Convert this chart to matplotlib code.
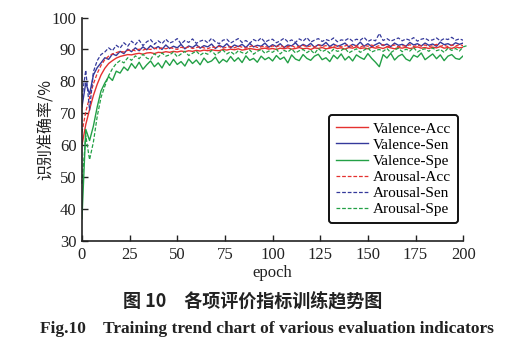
import matplotlib
matplotlib.use('Agg')
import matplotlib.pyplot as plt
import numpy as np

# epochs sampled every 2
epochs = list(range(0, 201, 2))
epochs_arousal_spe = list(range(0, 203, 2))

valence_acc = [60.0, 66.5, 71.2, 75.6, 79.1, 82.0, 84.1, 85.6, 86.5, 87.3,
               87.8, 88.1, 88.4, 88.3, 88.6, 88.8, 88.5, 88.9, 89.0, 88.7,
               89.1, 89.0, 89.3, 89.1, 89.4, 89.2, 89.5, 89.3, 89.6, 89.4,
               89.7, 89.5, 89.8, 89.6, 89.9, 89.7, 89.6, 90.0, 89.8, 90.1,
               89.9, 90.2, 89.8, 90.0, 90.3, 90.1, 89.9, 90.2, 90.4, 90.1,
               90.3, 90.0, 90.4, 90.2, 90.5, 90.1, 90.3, 90.6, 90.2, 90.4,
               90.0, 90.5, 90.3, 90.6, 90.2, 90.4, 90.7, 90.3, 90.5, 90.1,
               90.6, 90.4, 90.8, 90.3, 90.5, 90.2, 90.7, 90.4, 90.6, 90.3,
               90.8, 90.5, 90.2, 90.6, 90.4, 90.7, 90.3, 90.5, 90.8, 90.4,
               90.6, 90.3, 90.7, 90.5, 90.9, 90.4, 90.6, 90.3, 90.8, 90.5,
               90.7]
valence_sen = [72.0, 79.5, 76.0, 82.0, 84.3, 85.8, 87.4, 86.9, 88.6, 88.1,
               89.4, 88.7, 90.1, 89.3, 90.5, 89.6, 90.8, 89.9, 91.2, 90.2,
               90.9, 90.0, 91.4, 90.3, 91.0, 90.5, 91.6, 90.2, 91.1, 90.6,
               91.5, 90.4, 91.2, 90.8, 91.7, 90.3, 91.3, 90.7, 91.8, 90.5,
               91.4, 90.9, 91.6, 90.6, 91.9, 90.8, 91.3, 91.0, 92.0, 90.7,
               91.5, 90.9, 91.8, 90.6, 91.4, 91.1, 92.1, 90.8, 91.6, 91.0,
               91.9, 90.7, 91.5, 91.2, 92.2, 90.9, 91.7, 91.0, 91.4, 92.0,
               90.8, 91.6, 91.1, 92.3, 91.0, 91.8, 90.9, 91.5, 92.1, 91.2,
               91.7, 90.9, 92.0, 91.3, 91.6, 91.0, 92.2, 91.4, 91.8, 91.1,
               92.0, 91.3, 91.7, 91.0, 92.3, 91.5, 91.8, 91.2, 92.1, 91.6,
               92.0]
valence_spe = [37.0, 65.0, 61.5, 66.0, 72.0, 77.0, 79.5, 81.5, 80.3, 83.2,
               82.6, 84.5, 83.4, 85.6, 84.1, 86.0, 83.8, 85.2, 86.4, 84.6,
               85.8, 84.2, 86.5, 85.0, 86.9, 85.3, 86.2, 84.8, 87.0, 85.6,
               86.7, 85.2, 87.3, 85.9, 86.4, 87.6, 85.7, 86.9, 86.1, 87.8,
               86.3, 87.4, 85.9, 88.0, 86.6, 87.2, 86.0, 87.9, 86.8, 87.5,
               86.4, 88.1, 86.9, 87.6, 85.8, 88.3, 87.0, 86.5, 88.4, 87.2,
               86.6, 87.9, 88.5, 86.8, 87.4, 86.2, 88.2, 87.1, 88.6, 86.7,
               87.8, 86.4, 88.3, 87.5, 86.9, 88.7, 87.2, 86.0, 84.6, 88.4,
               87.3, 88.8, 86.7, 87.9, 88.5, 87.0, 86.4, 88.2, 87.6, 88.9,
               86.8, 87.7, 88.6, 87.1, 88.3, 86.5, 87.9, 88.4, 87.2, 86.9,
               88.0]
arousal_acc = [64.0, 70.5, 75.0, 79.2, 82.5, 85.0, 86.8, 87.9, 88.6, 89.0,
               89.4, 89.2, 89.7, 89.9, 89.6, 90.1, 89.8, 90.2, 90.0, 90.4,
               90.1, 90.5, 90.2, 90.6, 90.3, 90.0, 90.7, 90.4, 90.8, 90.3,
               90.6, 90.9, 90.5, 90.2, 90.8, 90.6, 91.0, 90.4, 90.7, 90.9,
               90.5, 91.1, 90.7, 90.4, 90.9, 91.2, 90.6, 90.8, 91.0, 90.5,
               91.1, 90.8, 91.3, 90.7, 90.9, 91.2, 90.6, 91.0, 91.3, 90.8,
               91.1, 90.7, 91.4, 90.9, 91.2, 90.6, 91.0, 91.3, 90.8, 91.1,
               91.5, 90.9, 91.2, 90.7, 91.3, 91.0, 91.4, 90.8, 91.2, 91.5,
               90.9, 91.1, 91.4, 90.8, 91.2, 91.0, 91.5, 90.9, 91.3, 91.1,
               91.4, 90.9, 91.2, 91.6, 91.0, 91.3, 90.9, 91.4, 91.1, 91.5,
               91.2]
arousal_sen = [75.0, 83.5, 71.0, 83.0, 86.5, 88.4, 89.2, 90.5, 89.6, 91.3,
               90.4, 92.1, 91.0, 92.6, 91.5, 92.9, 91.2, 92.4, 93.1, 91.6,
               92.7, 91.8, 93.2, 92.0, 92.5, 93.4, 91.7, 92.8, 92.2, 93.3,
               91.9, 92.6, 93.0, 92.1, 93.5, 92.4, 91.8, 92.9, 93.2, 92.0,
               92.7, 93.4, 92.2, 92.8, 91.9, 93.1, 92.5, 93.6, 92.3, 92.9,
               93.2, 92.1, 92.7, 93.5, 92.4, 93.0, 92.2, 93.3, 92.6, 93.7,
               92.3, 92.9, 93.4, 92.5, 93.1, 92.7, 93.6, 92.4, 93.0, 92.8,
               93.5, 92.6, 93.2, 92.9, 93.8, 92.5, 93.1, 92.7, 95.0, 92.8,
               93.4, 92.6, 93.1, 93.6, 92.7, 93.3, 92.9, 93.7, 92.6, 93.2,
               93.5, 92.8, 93.0, 93.6, 92.7, 93.4, 93.1, 93.8, 92.9, 93.3,
               92.9]
arousal_spe = [48.0, 63.0, 55.5, 61.0, 69.0, 75.0, 78.5, 81.8, 84.0, 85.6,
               86.5, 85.8, 87.4, 86.6, 88.0, 87.1, 88.5, 87.3, 86.8, 88.7,
               87.6, 88.9, 87.9, 88.3, 89.2, 87.7, 88.6, 89.4, 88.1, 88.8,
               89.5, 88.2, 89.0, 88.5, 89.7, 88.3, 89.1, 89.8, 88.6, 89.3,
               88.4, 89.6, 89.0, 88.7, 89.9, 88.5, 89.4, 90.0, 88.8, 89.5,
               89.1, 90.1, 88.6, 89.7, 89.2, 90.2, 88.9, 89.6, 90.0, 89.0,
               89.8, 88.7, 90.3, 89.3, 89.9, 88.8, 90.1, 89.4, 89.7, 90.4,
               88.9, 89.6, 90.2, 89.1, 89.8, 90.5, 89.2, 89.7, 90.0, 89.4,
               90.3, 89.0, 89.8, 90.4, 89.3, 90.1, 89.5, 90.6, 89.2, 89.9,
               90.2, 89.4, 90.5, 89.6, 90.0, 89.1, 90.4, 89.7, 90.3, 89.5,
               90.8, 91.2]

labels = ['Valence-Acc', 'Valence-Sen', 'Valence-Spe',
          'Arousal-Acc', 'Arousal-Sen', 'Arousal-Spe']
red, blue, green = '#e5312f', '#34399b', '#23a046'

plt.rcParams['font.family'] = ['Liberation Serif', 'Noto Sans CJK SC']

fig = plt.figure(figsize=(5.09, 3.5), dpi=100)
ax = fig.add_axes([0.161, 0.311, 0.749, 0.639])

ax.plot(epochs, valence_acc, color=red, lw=1.0, label=labels[0])
ax.plot(epochs, valence_sen, color=blue, lw=1.0, label=labels[1])
ax.plot(epochs, valence_spe, color=green, lw=1.0, label=labels[2])
ax.plot(epochs, arousal_acc, color=red, lw=0.9, ls=(0, (3, 1.5)), label=labels[3])
ax.plot(epochs, arousal_sen, color=blue, lw=0.9, ls=(0, (3, 1.5)), label=labels[4])
ax.plot(epochs_arousal_spe, arousal_spe, color=green, lw=0.9, ls=(0, (3, 1.5)),
        label=labels[5], clip_on=False)

ax.set_xlim(0, 200)
ax.set_ylim(30, 100)
ax.set_xticks(range(0, 201, 25))
ax.set_yticks(range(30, 101, 10))
for s in ['top', 'right']:
    ax.spines[s].set_visible(False)
for s in ['left', 'bottom']:
    ax.spines[s].set_linewidth(1.2)
    ax.spines[s].set_color('#222222')
ax.tick_params(direction='in', length=4, width=1.0, color='#222222',
               labelsize=12, labelcolor='#222222', pad=4)

ax.set_xlabel('epoch', fontsize=12, color='#222222', labelpad=2)
ax.set_ylabel('识别准确率/%', fontsize=11.5, color='#222222',
              family=['Noto Sans CJK SC', 'DejaVu Sans'], labelpad=-2)

leg = ax.legend(loc='upper left', bbox_to_anchor=(0.648, 0.564), fontsize=11,
                frameon=True, fancybox=True, handlelength=2.1, handletextpad=0.3,
                labelspacing=0.16, borderpad=0.45, borderaxespad=0)
leg.get_frame().set_edgecolor('#111111')
leg.get_frame().set_linewidth(1.4)
leg.get_frame().set_alpha(1)

fig.text(0.497, 0.140, '图 10　各项评价指标训练趋势图', ha='center', va='center',
         fontsize=13, family=['Noto Sans CJK SC'], weight='bold', color='#222222')
fig.text(0.525, 0.060, 'Fig.10    Training trend chart of various evaluation indicators',
         ha='center', va='center', fontsize=12.5, weight='bold', color='#222222')

fig.savefig('out.png', dpi=100)
